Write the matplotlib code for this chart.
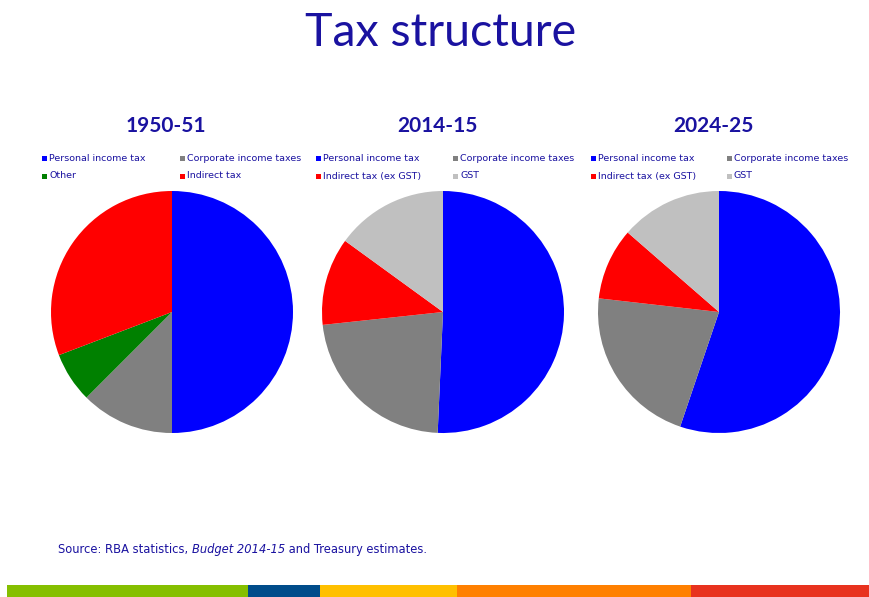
import matplotlib
matplotlib.use("Agg")
import matplotlib.pyplot as plt
from matplotlib.patches import Rectangle

# ---- data ----
years = ["1950-51", "2014-15", "2024-25"]
labels_1950 = ["Personal income tax", "Corporate income taxes", "Other", "Indirect tax"]
values_1950 = [50.0, 12.5, 6.7, 30.8]
labels_2014 = ["Personal income tax", "Corporate income taxes", "Indirect tax (ex GST)", "GST"]
values_2014 = [50.7, 22.6, 11.7, 15.0]
labels_2024 = ["Personal income tax", "Corporate income taxes", "Indirect tax (ex GST)", "GST"]
values_2024 = [55.2, 21.6, 9.6, 13.6]
colors_1950 = ["#0000FF", "#808080", "#008000", "#FF0000"]
colors_later = ["#0000FF", "#808080", "#FF0000", "#C0C0C0"]
band_colors = ["#85BF00", "#004C8A", "#FFC000", "#FF8000", "#E8321E"]
band_edges = [7, 248, 320, 457, 691, 869]

W, H = 869, 597
fig = plt.figure(figsize=(W / 100, H / 100), dpi=100)
fig.patch.set_facecolor("white")

TXT = "#1A12A0"

def fx(x):
    return x / W

def fy(y):
    return 1 - y / H

fig.text(fx(441), fy(33), "Tax structure", ha="center", va="center",
         fontsize=33.5, color=TXT, family="Lato")

centers = [172, 443, 719]
radius = 121
datasets = [(labels_1950, values_1950, colors_1950),
            (labels_2014, values_2014, colors_later),
            (labels_2024, values_2024, colors_later)]
leg_x = [(42, 180), (316, 453), (591, 727)]

for i, (cx, (labs, vals, cols), yr) in enumerate(zip(centers, datasets, years)):
    ax = fig.add_axes([fx(cx - radius), fy(312 + radius), 2 * radius / W, 2 * radius / H])
    ax.pie(vals, colors=cols, startangle=90, counterclock=False, radius=1,
           wedgeprops=dict(linewidth=0))
    ax.set_xlim(-1, 1)
    ax.set_ylim(-1, 1)
    ax.set_aspect("equal")
    ax.axis("off")
    fig.text(fx(cx - 6), fy(126), yr, ha="center", va="center", fontsize=15,
             fontweight="bold", color=TXT, family="Lato")
    for j, (lab, col) in enumerate(zip(labs, cols)):
        lx = leg_x[i][j % 2]
        ly = 159 + 17 * (j // 2)
        fig.patches.append(Rectangle((fx(lx), fy(ly + 2.5)), 5 / W, 5 / H,
                                     transform=fig.transFigure, facecolor=col,
                                     edgecolor="none"))
        fig.text(fx(lx + 7), fy(ly), lab, ha="left", va="center", fontsize=6.8,
                 color=TXT)

# source note
t1 = fig.text(fx(58), fy(549), "Source: RBA statistics, ", ha="left", va="center",
              fontsize=8.3, color=TXT)
t2 = fig.text(0, 0, "Budget 2014-15", fontsize=8.3, color=TXT, style="italic",
              ha="left", va="center")
t3 = fig.text(0, 0, " and Treasury estimates.", fontsize=8.3, color=TXT,
              ha="left", va="center")
fig.canvas.draw()
r = fig.canvas.get_renderer()
bb1 = t1.get_window_extent(r)
t2.set_position((bb1.x1 / W, fy(549)))
fig.canvas.draw()
bb2 = t2.get_window_extent(r)
t3.set_position((bb2.x1 / W, fy(549)))

# bottom band
for k, c in enumerate(band_colors):
    x0, x1 = band_edges[k], band_edges[k + 1]
    fig.patches.append(Rectangle((fx(x0), 0), (x1 - x0) / W, 12 / H,
                                 transform=fig.transFigure, facecolor=c,
                                 edgecolor="none"))

fig.savefig("out.png", dpi=100)
